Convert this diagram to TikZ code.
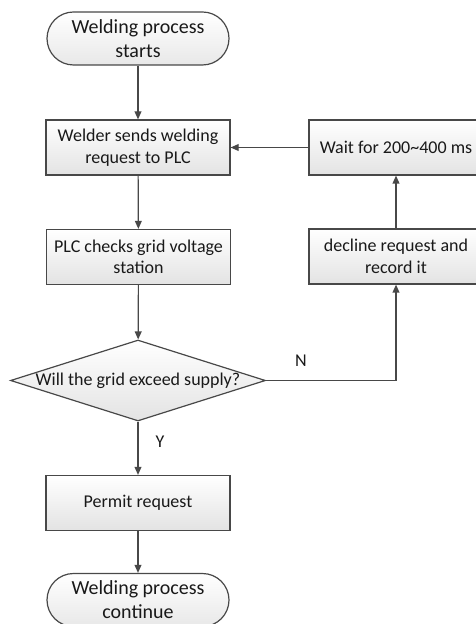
\documentclass[tikz,border=0pt]{standalone}
\usepackage{fontspec}
\setmainfont{Carlito}
\usetikzlibrary{arrows.meta,positioning,shapes.geometric}
\definecolor{wfline}{RGB}{72,72,72}
\definecolor{wftext}{RGB}{25,25,25}
\tikzset{
  wfterm/.style={
    rectangle, rounded corners=13.25pt, draw=wfline, line width=0.6pt,
    top color=white, bottom color=black!9,
    minimum width=91pt, minimum height=26.5pt, inner sep=0pt,
    text=wftext, align=center, font=\fontsize{10}{12}\selectfont
  },
  wfbox/.style={
    rectangle, draw=wfline, line width=0.6pt,
    top color=white, bottom color=black!11,
    minimum width=92pt, minimum height=27.5pt, inner sep=0pt,
    text=wftext, align=center, font=\fontsize{9}{10.8}\selectfont
  },
  wfboxnarrow/.style={wfbox,minimum width=87pt},
  wfdecision/.style={
    diamond, draw=wfline, line width=0.6pt,
    top color=white, bottom color=black!11,
    minimum width=127.5pt, minimum height=40.5pt, inner sep=0pt
  },
  wfedge/.style={-{Triangle[length=4pt,width=3.4pt]},draw=wfline,line width=0.6pt},
  wflabel/.style={font=\fontsize{9}{10.8}\selectfont,text=wftext,inner sep=1pt}
}

\begin{document}
\begin{tikzpicture}[x=0.5pt,y=-0.5pt]
  \useasboundingbox (0,0) rectangle (475,624);
  % main column
  \node[wfterm] (start) at (138,38.5) {Welding process\\starts};
  \node[wfbox] (req) at (138,147.5) {Welder sends welding\\request to PLC};
  \node[wfbox] (check) at (138.5,257) {PLC checks grid voltage\\station};
  \node[wfdecision,label={[wflabel]center:Will the grid exceed supply?}] (grid) at (138,380.5) {};
  \node[wfbox] (permit) at (138,503) {Permit request};
  \node[wfterm] (finish) at (138,600) {Welding process\\continue};
  % rejection branch
  \node[wfboxnarrow] (wait) at (396,147.5) {Wait for 200\textasciitilde400 ms};
  \node[wfboxnarrow] (decline) at (396,256.5) {decline request and\\record it};
  \node[wflabel] (nmark) at (301,361) {N};
  \node[wflabel] (ymark) at (160,442) {Y};

  \draw[wfedge] (start) -- (req);
  \draw[wfedge] (req) -- (check);
  \draw[wfedge] (check) -- (grid);
  \draw[wfedge] (grid) -- (permit);
  \draw[wfedge] (permit) -- (finish);
  \draw[wfedge] (grid.east) -| (decline);
  \draw[wfedge] (decline) -- (wait);
  \draw[wfedge] (wait) -- (req);
\end{tikzpicture}
\end{document}
